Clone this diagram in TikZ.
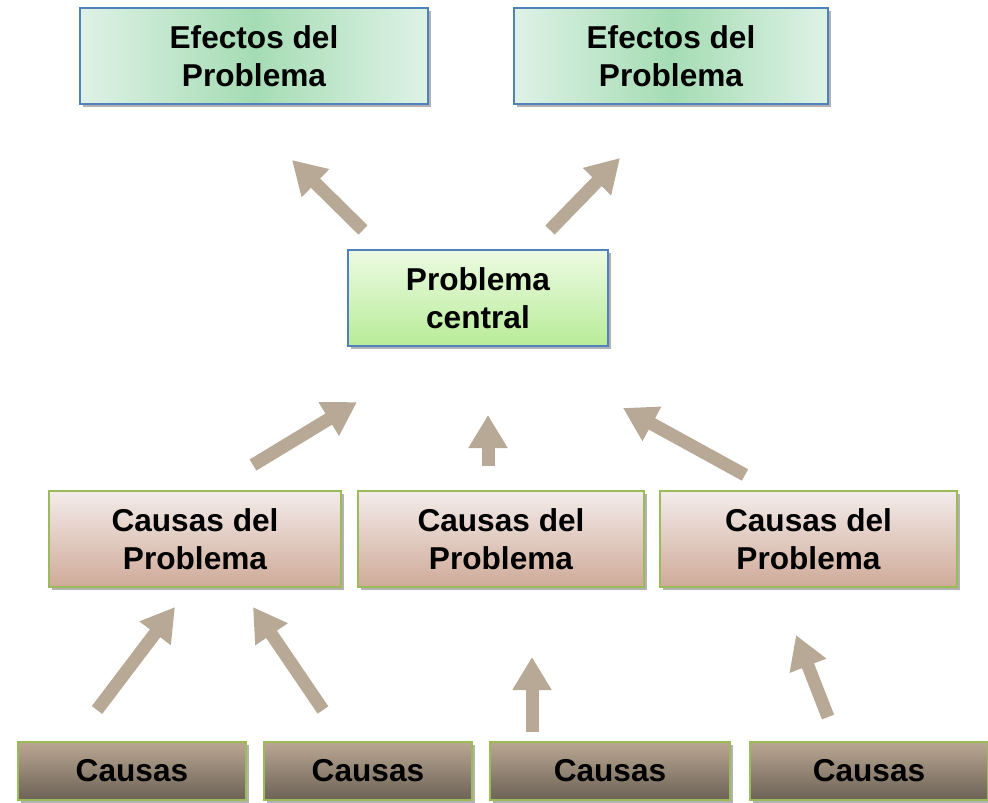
\documentclass[tikz,border=0pt]{standalone}
\usepackage{fontspec}
\setmainfont{Liberation Sans}
\usetikzlibrary{arrows.meta, positioning, shadows}

\definecolor{bordeazul}{RGB}{79,129,189}
\definecolor{bordeverde}{RGB}{155,187,89}
\definecolor{efborde}{RGB}{222,242,230}
\definecolor{efcentro}{RGB}{165,220,180}
\definecolor{centarriba}{RGB}{236,250,226}
\definecolor{centabajo}{RGB}{184,236,152}
\definecolor{causarriba}{RGB}{243,236,234}
\definecolor{causabajo}{RGB}{207,170,152}
\definecolor{raizarriba}{RGB}{186,167,146}
\definecolor{raizabajo}{RGB}{108,98,86}
\definecolor{flecha}{RGB}{184,168,150}

\tikzset{
  caja/.style={line width=1pt, align=center, minimum height=1.92cm,
    font=\fontsize{18}{21.6}\selectfont\bfseries,
    drop shadow={shadow xshift=1.5pt, shadow yshift=-1.5pt, opacity=0.3, fill=black}},
  efecto/.style={caja, draw=bordeazul, left color=efborde, right color=efborde, middle color=efcentro},
  central/.style={caja, draw=bordeazul, top color=centarriba, bottom color=centabajo},
  causa/.style={caja, draw=bordeverde, top color=causarriba, bottom color=causabajo},
  raiz/.style={caja, draw=bordeverde, top color=raizarriba, bottom color=raizabajo, minimum height=1.16cm},
  bloque/.style={draw=flecha, line width=0.26cm, -{Triangle[width=0.74cm, length=0.66cm]}}
}

\begin{document}
\begin{tikzpicture}[x=0.02cm, y=-0.02cm]
    \useasboundingbox (0,0) rectangle (988,802);

    % Efectos
    \node (efecto1) [efecto, minimum width=6.96cm] at (254,56) {Efectos del\\Problema};
    \node (efecto2) [efecto, minimum width=6.28cm] at (671,56) {Efectos del\\Problema};

    % Problema central
    \node (central) [central, minimum width=5.2cm] at (478,298) {Problema\\central};

    % Causas del problema
    \node (causa1) [causa, minimum width=5.84cm] at (195,539) {Causas del\\Problema};
    \node (causa2) [causa, minimum width=5.72cm] at (501,539) {Causas del\\Problema};
    \node (causa3) [causa, minimum width=5.94cm] at (808.5,539) {Causas del\\Problema};

    % Causas
    \node (raiz1) [raiz, minimum width=4.56cm] at (132,771) {Causas};
    \node (raiz2) [raiz, minimum width=4.16cm] at (368,771) {Causas};
    \node (raiz3) [raiz, minimum width=4.8cm] at (610,771) {Causas};
    \node (raiz4) [raiz, minimum width=4.76cm] at (869,771) {Causas};

    % Flechas
    \coordinate (ef1a) at (363,230);  \coordinate (ef1b) at (292,160);
    \coordinate (ef2a) at (550,230);  \coordinate (ef2b) at (620,158);
    \coordinate (ca1a) at (253,465);  \coordinate (ca1b) at (357,402);
    \coordinate (ca2a) at (488,466);  \coordinate (ca2b) at (488,415);
    \coordinate (ca3a) at (745,475);  \coordinate (ca3b) at (623,408);
    \coordinate (ra1a) at (97,710);   \coordinate (ra1b) at (175,607);
    \coordinate (ra2a) at (323,710);  \coordinate (ra2b) at (253,607);
    \coordinate (ra3a) at (532,732);  \coordinate (ra3b) at (532,657);
    \coordinate (ra4a) at (828,717);  \coordinate (ra4b) at (796,635);

    \foreach \a in {ef1,ef2,ca1,ca2,ca3,ra1,ra2,ra3,ra4}
        \draw[bloque] (\a a) -- (\a b);
\end{tikzpicture}
\end{document}
